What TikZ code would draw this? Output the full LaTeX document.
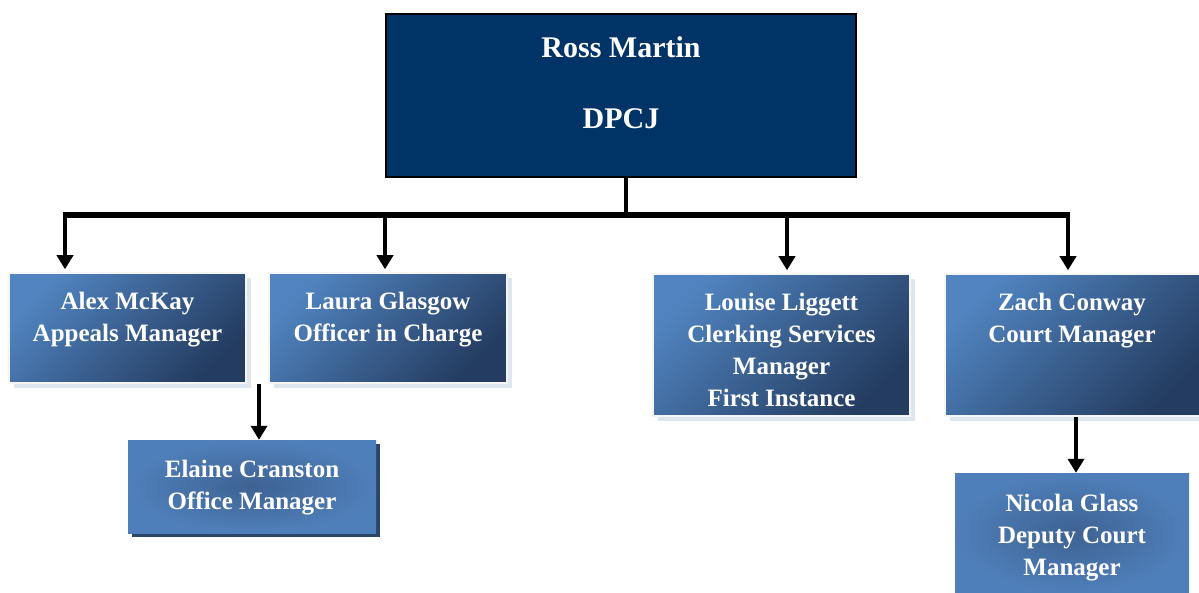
\documentclass[tikz,border=0pt]{standalone}
\usepackage{fontspec}
\setmainfont{Liberation Serif}
\usepackage{xcolor}
\usetikzlibrary{arrows.meta,positioning,shadows}

\definecolor{navy}{RGB}{0,51,102}
\definecolor{boxlight}{RGB}{80,131,191}
\definecolor{boxdark}{RGB}{36,60,96}
\definecolor{boxflat}{RGB}{79,127,186}
\definecolor{boxglow}{RGB}{62,98,146}
\definecolor{shadelight}{RGB}{222,230,240}
\definecolor{shadedark}{RGB}{44,70,106}

\begin{document}
\begin{tikzpicture}[x=1pt,y=-1pt,
    headbox/.style={draw=black, line width=2pt, fill=navy, inner sep=0pt},
    headtext/.style={text=white, align=center, font=\fontsize{30}{30}\selectfont\bfseries},
    postbox/.style={top color=boxlight, bottom color=boxdark, shading angle=45,
      draw=white!92!gray, line width=1.5pt, inner sep=0pt,
      drop shadow={shadow xshift=5pt, shadow yshift=-5pt, fill=shadelight, opacity=1}},
    subbox/.style={inner color=boxglow, outer color=boxflat, inner sep=0pt},
    posttext/.style={text=white, align=center, font=\fontsize{25}{32}\selectfont\bfseries},
    bus/.style={line width=6.5pt},
    feed/.style={line width=4.5pt, -{Triangle[width=16pt,length=14pt]}},
  ]
  \useasboundingbox (0,0) rectangle (1199,593);

  % head of unit
  \node[headbox, minimum width=470pt, minimum height=163pt] (ross) at (621,95.5) {};
  % anchor base = baseline of the last line
  \node[headtext, anchor=base] (rosstxt) at ([yshift=-116pt]ross.north) {Ross Martin\\[41pt]DPCJ};

  % first line of managers
  \node[postbox, minimum width=237pt, minimum height=110pt] (alex) at (127.5,328) {};
  \node[postbox, minimum width=238pt, minimum height=110pt] (laura) at (388,328) {};
  \node[postbox, minimum width=257pt, minimum height=142pt] (louise) at (781.5,345) {};
  \node[postbox, minimum width=262pt, minimum height=142pt] (zach) at (1076,345) {};

  % second line
  \node[subbox, minimum width=248pt, minimum height=93pt,
    drop shadow={shadow xshift=4pt, shadow yshift=-4pt, fill=shadedark, opacity=1}] (elaine) at (252,486.5) {};
  \node[subbox, minimum width=234pt, minimum height=120pt] (nicola) at (1072,533) {};

  % names and posts
  \node[posttext, anchor=base] (alextxt) at ([yshift=-69pt]alex.north) {Alex McKay\\Appeals Manager};
  \node[posttext, anchor=base] (lauratxt) at ([yshift=-69pt]laura.north) {Laura Glasgow\\Officer in Charge};
  \node[posttext, anchor=base] (louisetxt) at ([yshift=-133pt]louise.north) {Louise Liggett\\Clerking Services\\Manager\\First Instance};
  \node[posttext, anchor=base] (zachtxt) at ([xshift=-4pt,yshift=-69pt]zach.north) {Zach Conway\\Court Manager};
  \node[posttext, anchor=base] (elainetxt) at ([yshift=-70pt]elaine.north) {Elaine Cranston\\Office Manager};
  \node[posttext, anchor=base] (nicolatxt) at ([yshift=-103pt]nicola.north) {Nicola Glass\\Deputy Court\\Manager};

  % connectors
  \coordinate (busL) at (65,215);
  \coordinate (busR) at (1068,215);
  \draw[line width=4.5pt] ([xshift=5pt]ross.south) -- ([xshift=5pt]ross.south |- busL);
  \draw[bus] ([xshift=-2.25pt]busL) -- ([xshift=2.25pt]busR);
  \draw[feed, shorten >=3pt] (busL) -- (busL |- alex.north);
  \draw[feed, shorten >=3pt] ([xshift=-3pt]laura.north |- busL) -- ([xshift=-3pt]laura.north);
  \draw[feed, shorten >=3pt] ([xshift=5.5pt]louise.north |- busL) -- ([xshift=5.5pt]louise.north);
  \draw[feed, shorten >=3pt] (busR) -- (busR |- zach.north);
  \draw[feed] ([xshift=7pt]elaine.north |- laura.south) -- ([xshift=7pt]elaine.north);
  \draw[feed] ([xshift=4pt]nicola.north |- zach.south) -- ([xshift=4pt]nicola.north);
\end{tikzpicture}
\end{document}
